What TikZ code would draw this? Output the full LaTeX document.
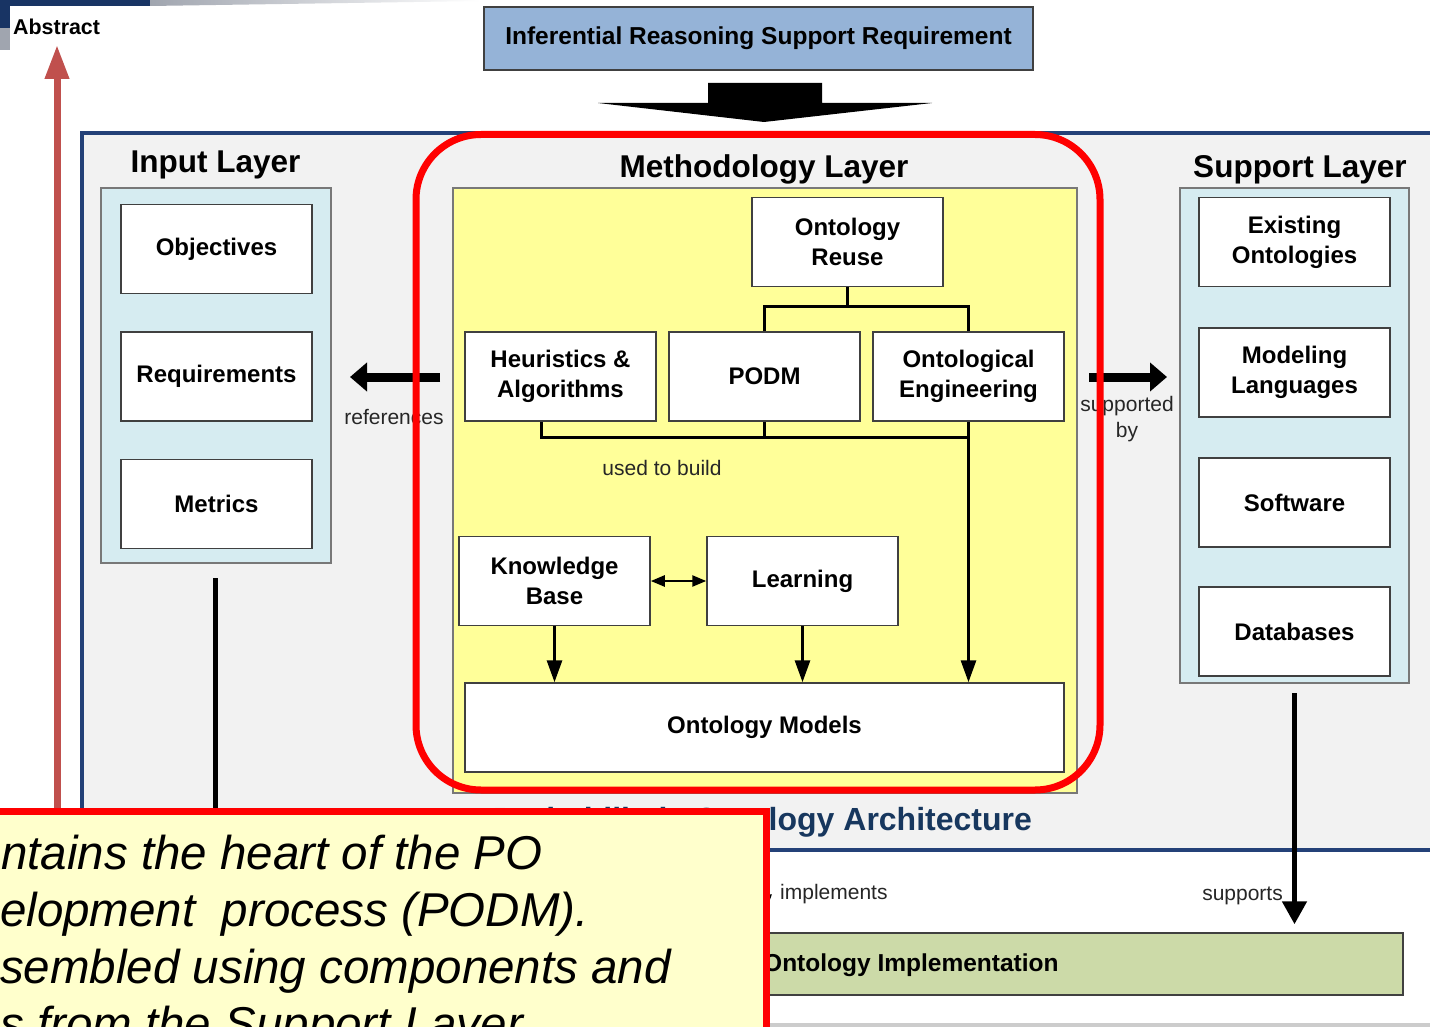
\documentclass[tikz,border=0pt]{standalone}
\usepackage{fontspec}
\setmainfont{Liberation Sans}
\usetikzlibrary{arrows.meta}
\definecolor{outerfill}{RGB}{242,242,242}
\definecolor{archblue}{RGB}{36,65,120}
\definecolor{archtext}{RGB}{23,55,94}
\definecolor{panelblue}{RGB}{214,236,241}
\definecolor{paneledge}{RGB}{120,120,120}
\definecolor{yellowp}{RGB}{255,255,153}
\definecolor{titleblue}{RGB}{149,179,215}
\definecolor{implgreen}{RGB}{204,218,168}
\definecolor{calloutfill}{RGB}{255,255,204}
\definecolor{arrowred}{RGB}{192,80,77}
\definecolor{boxedge}{RGB}{64,64,64}
\definecolor{navy}{RGB}{24,52,100}
\definecolor{bannergray}{RGB}{160,165,175}
\begin{document}
\begin{tikzpicture}[x=1pt,y=-1pt,
  box/.style={draw=boxedge, fill=white, line width=1.5pt, minimum width=191pt,
    minimum height=89pt, inner sep=0pt, align=center,
    font=\bfseries\fontsize{24}{30}\selectfont},
  panel/.style={draw=paneledge, line width=2pt},
  layertitle/.style={anchor=base, inner sep=0pt, font=\bfseries\fontsize{31.5}{36}\selectfont},
  smalllabel/.style={inner sep=0pt, font=\fontsize{21}{25}\selectfont, text=black!85},
  conn/.style={line width=3pt, black},
  connarrow/.style={conn, -{Triangle[length=22pt,width=15pt]}},
  bigarrow/.style={line width=9pt, black, -{Triangle[length=17pt,width=28pt]}},
  calltext/.style={anchor=base west, inner sep=0pt, font=\itshape\fontsize{47.5}{57}\selectfont}
]
\useasboundingbox (0,0) rectangle (1430,1027);
\clip (0,0) rectangle (1430,1027);
\fill[white] (0,0) rectangle (1430,1027);

% slide banner corner
\fill[navy] (0,0) rectangle (150,6);
\shade[left color=bannergray, right color=white] (150,0) -- (480,0) -- (480,1) -- (150,6) -- cycle;
\fill[navy] (0,0) rectangle (10,28);
\fill[bannergray] (0,28) rectangle (10,50);

% Abstract label and red arrow
\node[anchor=base west, inner sep=0pt, font=\bfseries\fontsize{21.4}{25}\selectfont] (abstract) at (13,35) {Abstract};
\coordinate (absbase) at (57,830);
\coordinate (abstip) at (57,45);
\draw[line width=7pt, arrowred, -{Triangle[length=34pt,width=23pt]}] (absbase) -- (abstip);

% requirement box
\node[draw=boxedge, fill=titleblue, line width=1.5pt, minimum width=549pt, minimum height=63pt,
  inner sep=0pt, font=\bfseries\fontsize{24.5}{29}\selectfont] (reqtop) at (758.5,38.5)
  {Inferential Reasoning Support Requirement};

% big down arrow
\fill[black] (708,83) -- (822,83) -- (822,103) -- (932,103) -- (764,122) -- (598,103) -- (708,103) -- cycle;

% outer architecture frame
\draw[draw=archblue, fill=outerfill, line width=4.5pt] (82,133) rectangle (1460,850);

% layer titles
\node[layertitle] (inlab) at (215.5,173) {Input Layer};
\node[layertitle] (methlab) at (764,178) {Methodology Layer};
\node[layertitle] (suplab) at (1300,178) {Support Layer};

% panels
\draw[panel, fill=panelblue] (101,188) rectangle (331,563);
\draw[panel, fill=yellowp] (453,188) rectangle (1077,793);
\draw[panel, fill=panelblue] (1180,188) rectangle (1409,683);

% input layer boxes
\node[box] (obj) at (216.5,249) {Objectives};
\node[box] (reqs) at (216.5,376.5) {Requirements};
\node[box] (met) at (216.5,504) {Metrics};

% methodology boxes
\node[box] (reuse) at (847.5,242) {Ontology\\Reuse};
\node[box] (heur) at (560.5,376.5) {Heuristics \&\\Algorithms};
\node[box] (podm) at (764.5,376.5) {PODM};
\node[box] (oe) at (968.5,376.5) {Ontological\\Engineering};
\node[box] (kb) at (554.5,581) {Knowledge\\Base};
\node[box] (learn) at (802.5,581) {Learning};
\node[box, minimum width=599pt] (models) at (764.5,727.5) {Ontology Models};

% support boxes
\node[box] (exist) at (1294.5,242) {Existing\\Ontologies};
\node[box] (mlang) at (1294.5,372.5) {Modeling\\Languages};
\node[box] (soft) at (1294.5,502.5) {Software};
\node[box] (db) at (1294.5,631.5) {Databases};

% connectors in methodology
\coordinate (bus1) at (847.5,306);
\draw[conn] (reuse.south) -- (bus1);
\draw[conn] (podm.north) |- (bus1);
\draw[conn] (oe.north) |- (bus1);
\coordinate (bus2) at (764.5,437);
\draw[conn] ([xshift=-19.5pt]heur.south) |- (oe.south |- bus2);
\draw[conn] (podm.south) -- (bus2);
\draw[connarrow] (oe.south) -- (oe.south |- models.north);
\draw[connarrow] (kb.south) -- (kb.south |- models.north);
\draw[connarrow] (learn.south) -- (learn.south |- models.north);
\draw[line width=2.5pt, {Triangle[length=14pt,width=11pt]}-{Triangle[length=14pt,width=11pt]}] (kb.east) -- (learn.west);
\node[smalllabel, anchor=base] (usedlab) at (662,475) {used to build};

% references / supported by arrows
\coordinate (refA) at (440,377);
\coordinate (refB) at (350,377);
\draw[bigarrow] (refA) -- (refB);
\node[smalllabel, anchor=base] (reflab) at (394,424) {references};
\coordinate (supA) at (1089,377);
\coordinate (supB) at (1167,377);
\draw[bigarrow] (supA) -- (supB);
\node[smalllabel, anchor=base] (suplab1) at (1127,411) {supported};
\node[smalllabel, anchor=base] (suplab2) at (1127,437) {by};

% red highlight
\draw[red, line width=7pt, rounded corners=65pt] (416,134.5) rectangle (1100,790);

% architecture title
\node[anchor=base, inner sep=0pt, text=archtext, font=\bfseries\fontsize{32}{36}\selectfont] (archlab) at (762.5,830) {Probabilistic Ontology Architecture};

% implementation
\node[draw=boxedge, fill=implgreen, line width=1.5pt, minimum width=1003pt, minimum height=62pt, inner sep=0pt] (impl) at (901.5,964) {};
\node[anchor=base west, inner sep=0pt, font=\bfseries\fontsize{24.5}{29}\selectfont] (impllab) at (763,971) {Ontology Implementation};
\coordinate (implA) at (764,856);
\draw[connarrow, shorten >=16pt] (implA) -- (implA |- impl.north);
\node[smalllabel, anchor=base west] (implementslab) at (780,899) {implements};
\coordinate (supsA) at (1294.5,693);
\draw[line width=5pt, -{Triangle[length=23pt,width=24pt]}, shorten >=8pt] (supsA) -- (supsA |- impl.north);
\node[smalllabel, anchor=base east] (supportslab) at (1283,900) {supports};

% input vertical line
\coordinate (inA) at (215.5,578);
\coordinate (inB) at (215.5,830);
\draw[line width=5pt] (inA) -- (inB);

% bottom frame strip
\fill[black!20] (770,1023) rectangle (1430,1027);

% callout
\draw[red, line width=7pt, fill=calloutfill] (-20,811) rectangle (766,1060);
\node[calltext] (c1) at (1,869) {ntains the heart of the PO};
\node[calltext] (c2) at (0,926) {elopment\ \ process (PODM).};
\node[calltext] (c3) at (0,983) {sembled using components and};
\node[calltext] (c4) at (0,1040) {s from the Support Layer};
\end{tikzpicture}
\end{document}
